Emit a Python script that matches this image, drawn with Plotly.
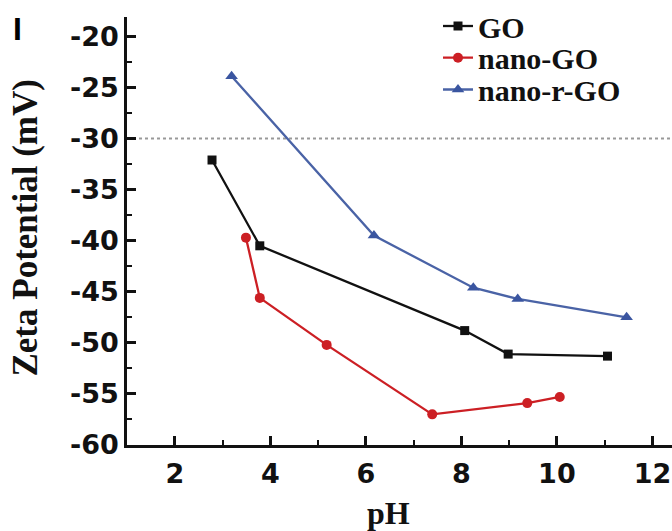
import plotly.graph_objects as go

# ---- data ----
go_ph = [2.78, 3.78, 8.07, 8.98, 11.06]
go_zeta = [-32.1, -40.5, -48.8, -51.1, -51.3]

nano_go_ph = [3.49, 3.78, 5.18, 7.39, 9.38, 10.06]
nano_go_zeta = [-39.7, -45.6, -50.2, -57.0, -55.9, -55.3]

nano_rgo_ph = [3.19, 6.17, 8.25, 9.18, 11.46]
nano_rgo_zeta = [-23.9, -39.5, -44.6, -45.7, -47.5]

threshold = -30
x_range = [1, 12.41]
y_range = [-60, -18.1]
x_ticks = [2, 4, 6, 8, 10, 12]
y_ticks = [-20, -25, -30, -35, -40, -45, -50, -55, -60]
y_ticktext = ["-20", "-25", "-30", "-35", "-40", "-45", "-50", "-55", "-60"]

serif = "Liberation Serif, Times New Roman, serif"
sans = "DejaVu Sans, sans-serif"

fig = go.Figure()
fig.add_trace(go.Scatter(x=go_ph, y=go_zeta, name="GO", mode="lines+markers",
                         line=dict(color="#111111", width=2.3),
                         marker=dict(symbol="square", size=9, color="#111111"),
                         legend="legend"))
fig.add_trace(go.Scatter(x=nano_go_ph, y=nano_go_zeta, name="nano-GO", mode="lines+markers",
                         line=dict(color="#cc1f24", width=2.3),
                         marker=dict(symbol="circle", size=10, color="#cc1f24"),
                         legend="legend2"))
fig.add_trace(go.Scatter(x=nano_rgo_ph, y=nano_rgo_zeta, name="nano-r-GO", mode="lines+markers",
                         line=dict(color="#4a63a6", width=2.3),
                         marker=dict(symbol="triangle-up", size=11, color="#3a55a0"),
                         legend="legend3"))

fig.add_shape(type="line", xref="x", yref="y", x0=x_range[0], x1=x_range[1],
              y0=threshold, y1=threshold, line=dict(color="#999999", width=2, dash="dot"),
              layer="below")

legend_common = dict(xanchor="left", yanchor="middle", bgcolor="rgba(0,0,0,0)",
                     font=dict(family=serif, size=30, color="#111111", weight="bold"),
                     itemwidth=30, tracegroupgap=0)
lx = (438 - 127) / 545
fig.update_layout(
    legend=dict(x=lx, y=(445 - 23) / 431, **legend_common),
    legend2=dict(x=lx, y=(445 - 55) / 431, **legend_common),
    legend3=dict(x=lx, y=(445 - 87) / 431, **legend_common),
)

axis_common = dict(showline=True, linecolor="#111111", linewidth=2.5, ticks="inside",
                   ticklen=9, tickwidth=2.5, tickcolor="#111111", showgrid=False,
                   zeroline=False, mirror=False,
                   tickfont=dict(family=sans, size=27, color="#111111", weight="bold"))

fig.update_xaxes(range=x_range, tickvals=x_ticks, ticklabelstandoff=3,
                 minor=dict(ticks="inside", ticklen=5, tickwidth=2, tickcolor="#111111", dtick=1, tick0=1),
                 **axis_common)
fig.update_yaxes(range=y_range, tickvals=y_ticks, ticktext=y_ticktext, ticklabelstandoff=0,
                 minor=dict(ticks="inside", ticklen=5, tickwidth=2, tickcolor="#111111", dtick=2.5, tick0=-60),
                 **axis_common)

fig.add_annotation(text="Zeta Potential (mV)", xref="paper", yref="paper",
                   x=(26 - 127) / 545, y=(445 - 227) / 431, textangle=-90, showarrow=False,
                   xanchor="center", yanchor="middle",
                   font=dict(family=serif, size=35, color="#111111", weight="bold"))
fig.add_annotation(text="pH", xref="paper", yref="paper",
                   x=(388 - 127) / 545, y=(445 - 513) / 431, showarrow=False,
                   xanchor="center", yanchor="middle",
                   font=dict(family=serif, size=32, color="#111111", weight="bold"))
fig.add_annotation(text="I", xref="paper", yref="paper",
                   x=(17 - 127) / 545, y=(445 - 26) / 431, showarrow=False,
                   xanchor="center", yanchor="middle",
                   font=dict(family="Liberation Sans, Arial, sans-serif", size=32, color="#000000", weight="bold"))

fig.update_layout(width=672, height=531, margin=dict(l=127, r=0, t=14, b=86),
                  plot_bgcolor="white", paper_bgcolor="white", showlegend=True)

fig.write_html("out.html")
